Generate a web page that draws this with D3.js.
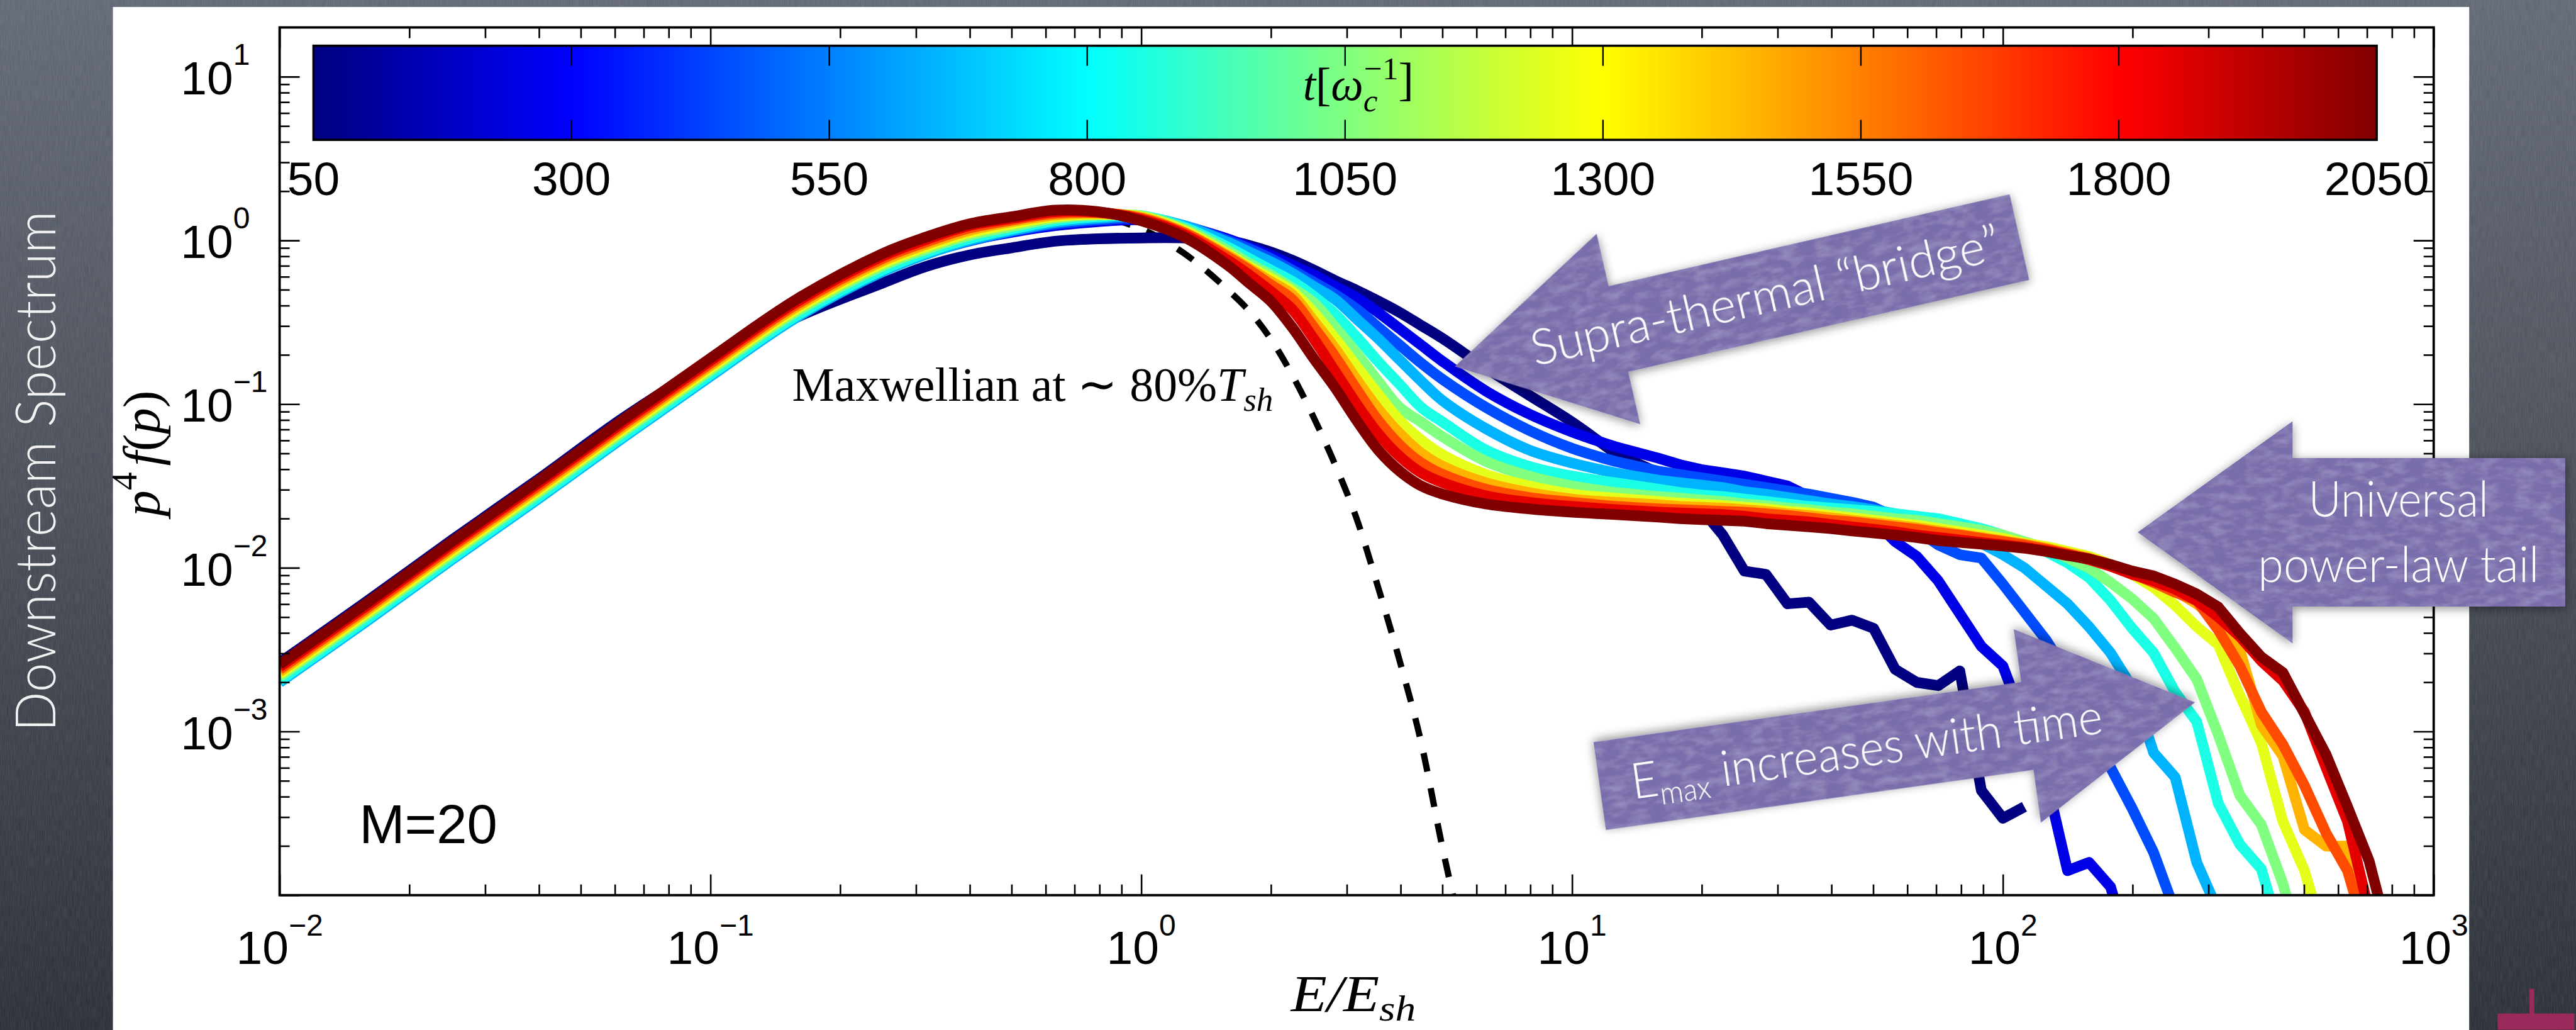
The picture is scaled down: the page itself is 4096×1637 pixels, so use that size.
<!DOCTYPE html>
<html>
<head>
<meta charset="utf-8">
<script src="https://cdn.jsdelivr.net/npm/d3@7/dist/d3.min.js"></script>
<style>
  html, body { margin: 0; padding: 0; background: #444952; overflow: hidden; }
  svg { display: block; }
</style>
</head>
<body>
<svg id="slide"></svg>
<script>
// time of each spectrum [1/omega_c]
var times = [50, 250, 450, 650, 850, 1050, 1250, 1450, 1650, 1850, 2050];

// log10(E/E_sh) sample points shared by all spectra
var logE = [-2.0,-1.8,-1.6,-1.4,-1.2,-1.0,-0.8,-0.6,
  -0.5,-0.4,-0.3,-0.2,-0.1,0.0, 0.1,0.2,
  0.25,0.3,0.35,0.4,0.45,0.5,0.55,0.6,0.65,0.7,
  0.8,0.9,1.0,1.1,
  1.2,1.25,1.3,1.35,1.4,1.45,1.5,1.55,1.6,1.65,1.7,1.75,1.8,1.85,1.9,1.95,2.0,
  2.05,2.1,2.15,2.2,2.25,2.3,2.35,2.4,2.45,2.5,2.55,2.6,2.65,2.7,2.75,2.8,2.85,2.9];

// log10 of p^4 f(p), one array per time (null = empty bin)
var spec50 = [-2.58,-2.21,-1.83,-1.46,-1.08,-0.75,-0.47,-0.26,
  -0.16,-0.09,-0.045,-0.005,0.01,0.015, 0.015,0.0,
  -0.03,-0.07,-0.12,-0.18,-0.245,-0.305,-0.37,-0.44,-0.52,-0.60,
  -0.78,-0.945,-1.11,-1.30,
  -1.42,-1.52,-1.64,-1.80,-2.02,-2.04,-2.22,-2.21,-2.35,-2.32,-2.37,-2.62,-2.70,-2.72,-2.63,-3.36,-3.53,-3.46,
  null,null,null,null,null,null,null,null,null,null,null,null,null,null,null,null,null];
var spec250 = [-2.68,-2.31,-1.93,-1.56,-1.18,-0.81,-0.45,-0.17,
  -0.07,0.0,0.05,0.09,0.115,0.125, 0.085,0.01,
  -0.04,-0.09,-0.15,-0.21,-0.28,-0.35,-0.44,-0.54,-0.64,-0.74,
  -0.92,-1.06,-1.17,-1.26,
  -1.33,-1.37,-1.40,-1.42,-1.44,-1.47,-1.50,-1.565,-1.60,-1.63,-1.71,-1.84,-1.93,-2.08,-2.28,-2.48,-2.60,
  -2.95,-3.28,-3.85,-3.80,-3.95,-4.4,
  null,null,null,null,null,null,null,null,null,null,null,null];
var spec450 = [-2.695,-2.325,-1.945,-1.575,-1.195,-0.825,-0.465,-0.185,
  -0.08,-0.005,0.055,0.10,0.125,0.135, 0.09,0.0,
  -0.05,-0.11,-0.18,-0.255,-0.33,-0.42,-0.53,-0.64,-0.75,-0.85,
  -1.02,-1.16,-1.27,-1.35,
  -1.41,-1.43,-1.45,-1.47,-1.49,-1.51,-1.53,-1.55,-1.575,-1.60,-1.63,-1.69,-1.77,-1.86,-1.92,-1.94,-2.10,
  -2.27,-2.44,-2.65,-2.92,-3.22,-3.47,-3.74,-4.1,
  null,null,null,null,null,null,null,null,null,null];
var spec650 = [-2.70,-2.33,-1.95,-1.58,-1.20,-0.83,-0.47,-0.19,
  -0.085,0.0,0.06,0.11,0.135,0.145, 0.09,-0.01,
  -0.07,-0.13,-0.20,-0.28,-0.36,-0.48,-0.60,-0.73,-0.86,-0.98,
  -1.15,-1.28,-1.36,-1.42,
  -1.465,-1.48,-1.495,-1.51,-1.535,-1.55,-1.57,-1.59,-1.61,-1.625,-1.645,-1.67,-1.70,-1.74,-1.79,-1.85,-1.92,
  -2.00,-2.11,-2.22,-2.36,-2.52,-2.73,-3.13,-3.28,-3.80,-4.1,
  null,null,null,null,null,null,null,null];
var spec850 = [-2.69,-2.32,-1.94,-1.57,-1.19,-0.82,-0.46,-0.18,
  -0.075,0.01,0.07,0.12,0.145,0.15, 0.08,-0.04,
  -0.11,-0.18,-0.25,-0.34,-0.45,-0.59,-0.74,-0.88,-1.02,-1.11,
  -1.28,-1.38,-1.44,-1.48,
  -1.52,-1.54,-1.555,-1.565,-1.58,-1.595,-1.61,-1.625,-1.635,-1.645,-1.655,-1.67,-1.685,-1.70,-1.73,-1.76,-1.80,
  -1.85,-1.90,-1.97,-2.06,-2.20,-2.37,-2.52,-2.76,-2.94,-3.44,-3.69,-3.84,-4.3,
  null,null,null,null,null];
var spec1050 = [-2.665,-2.295,-1.915,-1.545,-1.165,-0.795,-0.435,-0.155,
  -0.055,0.03,0.085,0.135,0.155,0.15, 0.07,-0.06,
  -0.14,-0.21,-0.29,-0.38,-0.53,-0.69,-0.86,-1.02,-1.11,-1.20,
  -1.35,-1.44,-1.50,-1.54,
  -1.565,-1.575,-1.585,-1.595,-1.61,-1.62,-1.635,-1.645,-1.66,-1.67,-1.685,-1.70,-1.71,-1.73,-1.75,-1.77,-1.80,
  -1.84,-1.88,-1.94,-2.00,-2.09,-2.19,-2.31,-2.49,-2.68,-3.02,-3.39,-3.57,-3.93,-4.4,
  null,null,null,null];
var spec1250 = [-2.65,-2.28,-1.90,-1.53,-1.15,-0.78,-0.42,-0.14,
  -0.04,0.045,0.10,0.145,0.16,0.145, 0.06,-0.08,
  -0.16,-0.23,-0.31,-0.44,-0.60,-0.77,-0.94,-1.10,-1.22,-1.31,
  -1.43,-1.50,-1.55,-1.575,
  -1.595,-1.605,-1.612,-1.62,-1.63,-1.64,-1.655,-1.665,-1.68,-1.695,-1.71,-1.725,-1.74,-1.76,-1.78,-1.80,-1.82,
  -1.85,-1.87,-1.90,-1.93,-1.98,-2.04,-2.12,-2.23,-2.36,-2.47,-2.78,-3.07,-3.55,-3.85,-4.3,
  null,null,null];
var spec1450 = [-2.635,-2.265,-1.885,-1.515,-1.135,-0.765,-0.405,-0.125,
  -0.025,0.06,0.115,0.155,0.165,0.14, 0.05,-0.09,
  -0.17,-0.25,-0.33,-0.49,-0.66,-0.85,-1.03,-1.18,-1.30,-1.38,
  -1.48,-1.54,-1.58,-1.60,
  -1.615,-1.625,-1.63,-1.635,-1.645,-1.655,-1.67,-1.68,-1.695,-1.71,-1.725,-1.74,-1.755,-1.775,-1.795,-1.815,-1.835,
  -1.855,-1.88,-1.91,-1.94,-1.98,-2.03,-2.08,-2.14,-2.22,-2.32,-2.50,-2.96,-3.15,-3.60,-3.70,-3.70,-4.4,
  null];
var spec1650 = [-2.62,-2.25,-1.87,-1.50,-1.12,-0.75,-0.39,-0.11,
  -0.01,0.075,0.125,0.165,0.17,0.135, 0.045,-0.10,
  -0.18,-0.27,-0.36,-0.53,-0.71,-0.91,-1.10,-1.25,-1.36,-1.43,
  -1.52,-1.57,-1.60,-1.625,
  -1.64,-1.645,-1.65,-1.655,-1.66,-1.67,-1.68,-1.695,-1.71,-1.72,-1.735,-1.75,-1.765,-1.785,-1.80,-1.82,-1.84,
  -1.86,-1.885,-1.915,-1.945,-1.99,-2.035,-2.09,-2.15,-2.20,-2.38,-2.60,-2.88,-3.08,-3.33,-3.62,-3.85,-4.3,
  null];
var spec1850 = [-2.605,-2.235,-1.855,-1.485,-1.105,-0.735,-0.375,-0.095,
  0.005,0.09,0.135,0.175,0.172,0.128, 0.035,-0.12,
  -0.21,-0.31,-0.42,-0.60,-0.80,-1.00,-1.18,-1.32,-1.42,-1.48,
  -1.56,-1.60,-1.625,-1.645,
  -1.66,-1.665,-1.67,-1.675,-1.685,-1.70,-1.71,-1.72,-1.735,-1.75,-1.765,-1.78,-1.80,-1.815,-1.83,-1.845,-1.86,
  -1.875,-1.895,-1.92,-1.95,-1.99,-2.04,-2.08,-2.13,-2.20,-2.30,-2.42,-2.57,-2.69,-2.88,-3.22,-3.55,-4.1,
  null];
var spec2050 = [-2.59,-2.22,-1.84,-1.47,-1.09,-0.72,-0.36,-0.08,
  0.02,0.10,0.145,0.185,0.175,0.12, 0.02,-0.15,
  -0.26,-0.37,-0.53,-0.72,-0.90,-1.10,-1.28,-1.41,-1.50,-1.55,
  -1.61,-1.64,-1.66,-1.675,
  -1.69,-1.70,-1.705,-1.71,-1.715,-1.73,-1.74,-1.75,-1.76,-1.775,-1.787,-1.80,-1.815,-1.833,-1.845,-1.855,-1.867,
  -1.88,-1.90,-1.925,-1.945,-1.98,-2.02,-2.05,-2.10,-2.16,-2.24,-2.40,-2.545,-2.64,-2.89,-3.14,-3.46,-3.79,-4.3];

// Maxwellian at ~80% T_sh (dashed)
var maxwellLogE = [-2.0,-1.5,-1.0,-0.6,-0.4,-0.2,-0.1,0.0,0.1,0.2,0.25,0.3,0.35,0.4,0.45,0.5,0.55,0.6,0.65,0.7,0.75];
var maxwellLogF = [-2.66,-1.72,-0.79,-0.16,0.05,0.15,0.14,0.07,-0.08,-0.30,-0.43,-0.60,-0.82,-1.08,-1.37,-1.70,-2.12,-2.57,-3.07,-3.72,-4.3];

var xDecades = [-2, -1, 0, 1, 2, 3];
var yDecades = [-3, -2, -1, 0, 1];
var cbTicks = [50, 300, 550, 800, 1050, 1300, 1550, 1800, 2050];

var series = [spec50, spec250, spec450, spec650, spec850, spec1050,
  spec1250, spec1450, spec1650, spec1850, spec2050].map(function(v, i) {
  return {t: times[i], v: v};
});

// ---------------------------------------------------------------
var S = 0.855, W = 4096, H = 1637;
var SANS = "'Liberation Sans', Arial, Helvetica, sans-serif";
var SERIF = "'Liberation Serif', 'Times New Roman', serif";
var SLIDE = "Lato, 'Open Sans', sans-serif";

function jet(v) {
  var c = function(a) { return Math.max(0, Math.min(1, 1.5 - Math.abs(4 * v - a))); };
  return d3.rgb(c(3) * 255, c(2) * 255, c(1) * 255).formatHex();
}

// scale font so the text is w wide
function fit(sel, w) {
  var bw = sel.node().getBBox().width;
  if (bw > 0) sel.attr("font-size", parseFloat(sel.attr("font-size")) * w / bw);
  return sel;
}
// keep font size, squeeze/stretch glyphs to w
function squeeze(sel, w) {
  sel.attr("textLength", w).attr("lengthAdjust", "spacingAndGlyphs");
  return sel;
}

var svg = d3.select("#slide").attr("width", W).attr("height", H);
var defs = svg.append("defs");

var bgGrad = defs.append("linearGradient").attr("id", "bg")
  .attr("x1", 0).attr("y1", 0).attr("x2", 0).attr("y2", 1);
bgGrad.append("stop").attr("offset", 0).attr("stop-color", "#636974");
bgGrad.append("stop").attr("offset", 0.5).attr("stop-color", "#484d57");
bgGrad.append("stop").attr("offset", 1).attr("stop-color", "#2b2f36");

var grain = defs.append("filter").attr("id", "grain")
  .attr("x", 0).attr("y", 0).attr("width", 1).attr("height", 1);
grain.append("feTurbulence").attr("type", "fractalNoise")
  .attr("baseFrequency", "0.6 0.05").attr("numOctaves", 2).attr("seed", 5);
grain.append("feColorMatrix").attr("type", "matrix")
  .attr("values", "0 0 0 0 1  0 0 0 0 1  0 0 0 0 1  0 0 0 0.25 -0.05");

var paper = defs.append("filter").attr("id", "paper")
  .attr("x", 0).attr("y", 0).attr("width", 1).attr("height", 1);
paper.append("feTurbulence").attr("type", "fractalNoise")
  .attr("baseFrequency", "0.035 0.08").attr("numOctaves", 3).attr("seed", 7).attr("result", "noise");
paper.append("feColorMatrix").attr("in", "noise").attr("type", "matrix")
  .attr("values", "0 0 0 0 0.62  0 0 0 0 0.58  0 0 0 0 0.80  0 0 0 0.55 -0.22").attr("result", "tint");
paper.append("feComposite").attr("in", "tint").attr("in2", "SourceAlpha").attr("operator", "in").attr("result", "tintIn");
var pm = paper.append("feMerge");
pm.append("feMergeNode").attr("in", "SourceGraphic");
pm.append("feMergeNode").attr("in", "tintIn");

var shadow = defs.append("filter").attr("id", "shadow")
  .attr("x", "-20%").attr("y", "-40%").attr("width", "140%").attr("height", "180%");
shadow.append("feGaussianBlur").attr("in", "SourceAlpha").attr("stdDeviation", 8).attr("result", "blur");
shadow.append("feOffset").attr("in", "blur").attr("dx", 0).attr("dy", -3).attr("result", "off");
shadow.append("feComponentTransfer").attr("in", "off").attr("result", "sh")
  .append("feFuncA").attr("type", "linear").attr("slope", 0.45);
var sm = shadow.append("feMerge");
sm.append("feMergeNode").attr("in", "sh");
sm.append("feMergeNode").attr("in", "SourceGraphic");

// slide background + white figure panel
svg.append("rect").attr("width", W).attr("height", H).attr("fill", "url(#bg)");
svg.append("rect").attr("width", W).attr("height", H).attr("filter", "url(#grain)").attr("opacity", 0.5);
svg.append("rect").attr("x", 210 * S).attr("y", 13 * S)
  .attr("width", (4592 - 210) * S).attr("height", H).attr("fill", "#fff");

// small cut-off logo at bottom right
svg.append("rect").attr("x", 4645 * S).attr("y", 1884 * S).attr("width", 143 * S).attr("height", 30 * S).attr("fill", "#9a2a5c");
svg.append("rect").attr("x", 4704 * S).attr("y", 1838 * S).attr("width", 9 * S).attr("height", 50 * S).attr("fill", "#9a2a5c");

svg.append("text")
  .attr("transform", "translate(" + (103 * S) + "," + (876 * S) + ") rotate(-90)")
  .attr("text-anchor", "middle").attr("font-family", SLIDE).attr("font-weight", 300)
  .attr("font-size", 88).attr("fill", "#f2f2f2")
  .text("Downstream Spectrum")
  .call(squeeze, 968 * S);

// axes
var axL = 520 * S, axR = 4526 * S, axT = 51 * S, axB = 1664 * S;
var x = d3.scaleLog().domain([1e-2, 1e3]).range([axL, axR]);
var y = d3.scaleLog().domain([1e-4, 20]).range([axB, axT]);

defs.append("clipPath").attr("id", "plotClip").append("rect")
  .attr("x", axL).attr("y", axT).attr("width", axR - axL).attr("height", axB - axT);
var plot = svg.append("g").attr("clip-path", "url(#plotClip)");

plot.append("path")
  .datum(d3.zip(maxwellLogE, maxwellLogF))
  .attr("d", d3.line().curve(d3.curveMonotoneX)
    .x(function(d) { return x(Math.pow(10, d[0])); })
    .y(function(d) { return y(Math.pow(10, d[1])); }))
  .attr("fill", "none").attr("stroke", "#000")
  .attr("stroke-width", 10).attr("stroke-dasharray", "30,27");

// smooth thermal part, straight segments in the noisy tail
var smoothLine = d3.line()
  .curve(d3.curveCatmullRom.alpha(0.5))
  .x(function(d) { return x(Math.pow(10, d[0])); })
  .y(function(d) { return y(Math.pow(10, d[1])); });
var tailLine = d3.line()
  .defined(function(d) { return d[1] !== null; })
  .x(function(d) { return x(Math.pow(10, d[0])); })
  .y(function(d) { return y(Math.pow(10, d[1])); });
var split = logE.indexOf(1.1);

series.forEach(function(s) {
  var pts = logE.map(function(e, i) { return [e, s.v[i] === undefined ? null : s.v[i]]; });
  var d = smoothLine(pts.slice(0, split + 1)) + tailLine(pts.slice(split)).replace(/^M/, "L");
  plot.append("path")
    .attr("d", d)
    .attr("fill", "none")
    .attr("stroke", jet((s.t - 50) / 2000))
    .attr("stroke-width", 17)
    .attr("stroke-linejoin", "round");
});

// ticks
var xMajor = xDecades.map(function(e) { return Math.pow(10, e); });
var yMajor = [-4].concat(yDecades).map(function(e) { return Math.pow(10, e); });
var xMinor = [], yMinor = [];
d3.range(-2, 3).forEach(function(e) { d3.range(2, 10).forEach(function(k) { xMinor.push(k * Math.pow(10, e)); }); });
d3.range(-4, 2).forEach(function(e) { d3.range(2, 10).forEach(function(k) {
  var v = k * Math.pow(10, e); if (v < 20) yMinor.push(v); }); });

function tickAxis(axis, tr, len, vals) {
  var g = svg.append("g").attr("transform", tr)
    .call(axis.tickValues(vals).tickSize(-len).tickFormat(""));
  g.select(".domain").remove();
  g.selectAll(".tick line").attr("stroke", "#000").attr("stroke-width", 2.6);
}
tickAxis(d3.axisBottom(x), "translate(0," + axB + ")", 33, xMajor);
tickAxis(d3.axisBottom(x), "translate(0," + axB + ")", 17, xMinor);
tickAxis(d3.axisTop(x), "translate(0," + axT + ")", 33, xMajor);
tickAxis(d3.axisTop(x), "translate(0," + axT + ")", 17, xMinor);
tickAxis(d3.axisLeft(y), "translate(" + axL + ",0)", 32, yMajor);
tickAxis(d3.axisLeft(y), "translate(" + axL + ",0)", 16, yMinor);
tickAxis(d3.axisRight(y), "translate(" + axR + ",0)", 32, yMajor);
tickAxis(d3.axisRight(y), "translate(" + axR + ",0)", 16, yMinor);

svg.append("rect").attr("x", axL).attr("y", axT)
  .attr("width", axR - axL).attr("height", axB - axT)
  .attr("fill", "none").attr("stroke", "#000").attr("stroke-width", 3.8);

function supText(e) { return e < 0 ? "\u2212" + (-e) : String(e); }

xDecades.forEach(function(e) {
  var t = svg.append("text").attr("x", x(Math.pow(10, e))).attr("y", 1792 * S)
    .attr("text-anchor", "middle").attr("font-family", SANS).attr("font-size", 75);
  t.append("tspan").text("10");
  t.append("tspan").attr("font-size", 48).attr("dy", -45).text(supText(e));
});
yDecades.forEach(function(e) {
  var t = svg.append("text").attr("x", 336 * S).attr("y", y(Math.pow(10, e)) + 33 * S)
    .attr("font-family", SANS).attr("font-size", 75);
  t.append("tspan").text("10");
  t.append("tspan").attr("font-size", 48).attr("dy", -47).text(supText(e));
});

// colorbar
var cb = d3.scaleLinear().domain([50, 2050]).range([583 * S, 4420 * S]);
var cbT = 85 * S, cbB = 260 * S;
var jetGrad = defs.append("linearGradient").attr("id", "jet")
  .attr("x1", 0).attr("y1", 0).attr("x2", 1).attr("y2", 0);
d3.range(0, 1.0001, 0.125).forEach(function(o) {
  jetGrad.append("stop").attr("offset", o).attr("stop-color", jet(o));
});
svg.append("rect").attr("x", cb(50)).attr("y", cbT)
  .attr("width", cb(2050) - cb(50)).attr("height", cbB - cbT)
  .attr("fill", "url(#jet)").attr("stroke", "#000").attr("stroke-width", 3.6);
cbTicks.slice(1, -1).forEach(function(t) {
  svg.append("line").attr("x1", cb(t)).attr("x2", cb(t)).attr("y1", cbT).attr("y2", cbT + 32)
    .attr("stroke", "#000").attr("stroke-width", 2.4);
  svg.append("line").attr("x1", cb(t)).attr("x2", cb(t)).attr("y1", cbB).attr("y2", cbB - 32)
    .attr("stroke", "#000").attr("stroke-width", 2.4);
});
cbTicks.forEach(function(t) {
  svg.append("text").attr("x", cb(t)).attr("y", 362 * S)
    .attr("text-anchor", "middle").attr("font-family", SANS).attr("font-size", 75)
    .text(t);
});
(function() {
  var t = svg.append("text").attr("x", 2526 * S).attr("y", 186 * S)
    .attr("text-anchor", "middle").attr("font-family", SERIF).attr("font-size", 76);
  t.append("tspan").attr("font-style", "italic").text("t");
  t.append("tspan").text("[");
  t.append("tspan").attr("font-style", "italic").text("\u03c9");
  t.append("tspan").attr("font-style", "italic").attr("font-size", "0.7em").attr("dy", "0.35em").text("c");
  t.append("tspan").attr("font-size", "0.7em").attr("dx", "-0.42em").attr("dy", "-1.0em").text("\u22121");
  t.append("tspan").attr("dy", "0.35em").text("]");
  fit(t, 206 * S);
})();

// axis labels
(function() {
  var t = svg.append("text").attr("x", 2517 * S).attr("y", 1880 * S)
    .attr("text-anchor", "middle").attr("font-family", SERIF).attr("font-size", 82)
    .attr("font-style", "italic");
  t.append("tspan").text("E/E");
  t.append("tspan").attr("font-size", "0.7em").attr("dy", "0.25em").text("sh");
  squeeze(t, 232 * S);

  var yl = svg.append("text")
    .attr("transform", "translate(" + (296 * S) + "," + (843 * S) + ") rotate(-90)")
    .attr("text-anchor", "middle").attr("font-family", SERIF).attr("font-size", 64);
  yl.append("tspan").attr("font-style", "italic").text("p");
  yl.append("tspan").attr("font-size", "0.7em").attr("dy", "-0.62em").text("4");
  yl.append("tspan").attr("font-style", "italic").attr("dy", "0.43em").attr("dx", "0.12em").text("f");
  yl.append("tspan").text("(");
  yl.append("tspan").attr("font-style", "italic").text("p");
  yl.append("tspan").text(")");
  fit(yl, 240 * S);

  var mx = svg.append("text").attr("x", 1473 * S).attr("y", 745 * S)
    .attr("font-family", SERIF).attr("font-size", 74);
  mx.append("tspan").text("Maxwellian at \u223c 80%");
  mx.append("tspan").attr("font-style", "italic").text("T");
  mx.append("tspan").attr("font-style", "italic").attr("font-size", "0.7em").attr("dy", "0.3em").text("sh");
  fit(mx, 894 * S);

  svg.append("text").attr("x", 668 * S).attr("y", 1567 * S)
    .attr("font-family", SANS).attr("font-size", 85).text("M=20")
    .call(fit, 257 * S);
})();

// annotation arrows (tip anchored in data coordinates)
var arrows = [
  {tipE: Math.pow(10, 0.728), tipF: Math.pow(10, -0.770), angle: 167.1,
   len: 1077, headLen: 312, headW: 363, shaftW: 163, textAt: 592,
   lines: [{text: ["Supra-thermal \u201cbridge\u201d"], dy: 0, w: 893, fs: 78}]},
  {tipE: Math.pow(10, 2.313), tipF: Math.pow(10, -1.783), angle: 180,
   len: 795, headLen: 288, headW: 413, shaftW: 276, textAt: 485,
   lines: [{text: ["Universal"], dy: -62, w: 335, fs: 78}, {text: ["power-law tail"], dy: 60, w: 523, fs: 78}]},
  {tipE: Math.pow(10, 2.446), tipF: Math.pow(10, -2.822), angle: -8.0,
   len: 1118, headLen: 315, headW: 363, shaftW: 165, textAt: 617,
   lines: [{text: ["E", "max", " increases with time"], dy: 0, w: 884, fs: 78}]}
];

var annot = svg.append("g");
arrows.forEach(function(a) {
  var g = annot.append("g")
    .attr("transform", "translate(" + x(a.tipE) + "," + y(a.tipF) + ") rotate(" + a.angle + ")")
    .attr("filter", "url(#shadow)");
  var hl = a.headLen * S, hw = a.headW * S / 2, sw = a.shaftW * S / 2, L = a.len * S;
  var pts = [[0, 0], [-hl, -hw], [-hl, -sw], [-L, -sw], [-L, sw], [-hl, sw], [-hl, hw]];
  g.append("path").attr("d", d3.line()(pts) + "Z")
    .attr("fill", "#7a6dab").attr("filter", "url(#paper)");
  var flip = Math.cos(a.angle * Math.PI / 180) < 0 ? 180 : 0;
  var tg = g.append("g").attr("transform", "translate(" + (-a.textAt * S) + ",0) rotate(" + flip + ")");
  a.lines.forEach(function(ln) {
    var t = tg.append("text").attr("x", 0).attr("y", ln.dy * S)
      .attr("dy", "0.36em").attr("text-anchor", "middle")
      .attr("font-family", SLIDE).attr("font-weight", 300)
      .attr("font-size", ln.fs).attr("fill", "#fff");
    if (ln.text.length === 1) {
      t.text(ln.text[0]);
    } else {
      t.append("tspan").text(ln.text[0]);
      t.append("tspan").attr("font-size", "0.62em").attr("dy", "0.3em").text(ln.text[1]);
      t.append("tspan").attr("dy", "-0.186em").text(ln.text[2]);
    }
    squeeze(t, ln.w * S);
  });
});
</script>
</body>
</html>
